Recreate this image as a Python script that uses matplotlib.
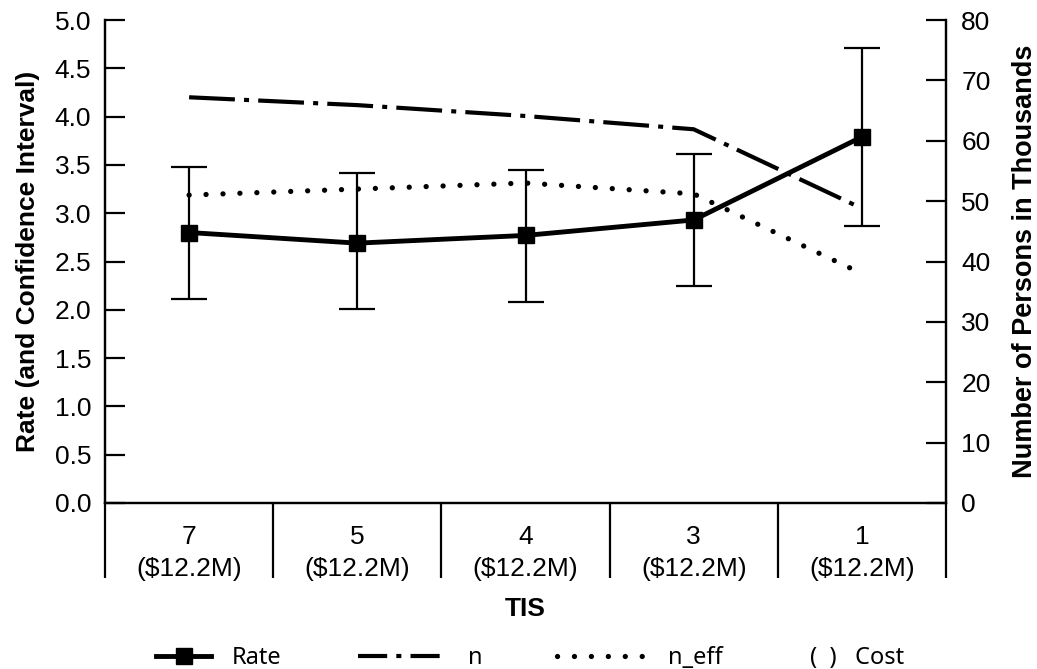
import numpy as np
import matplotlib
import matplotlib.pyplot as plt
from matplotlib.lines import Line2D
from matplotlib.ticker import FormatStrFormatter
matplotlib.use('Agg')

plt.rcParams['font.family'] = ['Liberation Sans', 'DejaVu Sans']

# ------------ Data ------------ #
tis = ['7', '5', '4', '3', '1']
cost = ['$12.2M', '$12.2M', '$12.2M', '$12.2M', '$12.2M']
rate = [2.80, 2.69, 2.77, 2.93, 3.79]
rate_lo = [2.11, 2.01, 2.08, 2.25, 2.87]
rate_hi = [3.48, 3.42, 3.45, 3.61, 4.71]
n_persons = [67.2, 65.9, 64.1, 61.9, 48.8]      # thousands
n_eff = [51.0, 52.0, 53.0, 51.2, 38.0]          # thousands

# ------------ Figure ------------ #
W, H = 1037, 669
fig = plt.figure(figsize=(W / 100, H / 100), dpi=100)
ax = fig.add_axes([105 / W, 1 - 503 / H, (946 - 105) / W, (503 - 20) / H])
ax2 = ax.twinx()
ax.set_zorder(ax2.get_zorder() + 1)
ax.patch.set_visible(False)

x = np.arange(len(tis))
rate = np.array(rate)
yerr = [rate - np.array(rate_lo), np.array(rate_hi) - rate]

dashdot = (0, (11, 2.2, 1.2, 2.2))
dotted = (0, (0.01, 3.2))

# counts on the right axis
ax2.plot(x, n_persons, color='black', lw=3.0, linestyle=dashdot)
ax2.plot(x, n_eff, color='black', lw=3.8, linestyle=dotted, dash_capstyle='round')

# rate with confidence interval on the left axis
ax.errorbar(x, rate, yerr=yerr, fmt='-s', color='black', lw=3.5, ms=12,
            elinewidth=1.6, capsize=13, capthick=1.6)

# axes styling
for a in (ax, ax2):
    a.spines['top'].set_visible(False)
    for s in a.spines.values():
        s.set_linewidth(1.6)

ax.set_xlim(-0.5, len(tis) - 0.5)
ax.set_ylim(0, 5)
ax.set_yticks(np.arange(0, 5.01, 0.5))
ax.yaxis.set_major_formatter(FormatStrFormatter('%.1f'))
ax.tick_params(axis='y', direction='in', length=14.4, width=1.6, pad=10, labelsize=19)

ax.set_xticks(x)
ax.set_xticklabels([f"{t}\n({c})" for t, c in zip(tis, cost)], linespacing=1.4)
ax.tick_params(axis='x', which='major', length=0, pad=16, labelsize=19)
ax.set_xticks(np.arange(-0.5, len(tis), 1), minor=True)
ax.tick_params(axis='x', which='minor', direction='out', length=54, width=1.6)

ax2.set_ylim(0, 80)
ax2.set_yticks(np.arange(0, 81, 10))
ax2.tick_params(axis='y', direction='in', length=14.4, width=1.6, pad=11, labelsize=19)

ax.set_ylabel('Rate (and Confidence Interval)', fontsize=19, fontweight='bold')
ax.yaxis.set_label_coords(-0.077, 0.5)
ax2.set_ylabel('Number of Persons in Thousands', fontsize=19.5, fontweight='bold')
ax2.yaxis.set_label_coords(1.078, 0.5)
ax.set_xlabel('TIS', fontsize=19, fontweight='bold')
ax.xaxis.set_label_coords(0.5, -0.195)

# ------------ Legend ------------ #
leg_prop = {'family': 'Noto Sans', 'size': 17}
leg_y = 1 - 658 / H
entries = [
    (Line2D([], [], color='black', lw=3.5, marker='s', ms=12), 'Rate', 156, 2.35, 0.85),
    (Line2D([], [], color='black', lw=3.0, linestyle=(0, (7, 2.2, 1.2, 2.2))), 'n', 358, 3.8, 0.85),
    (Line2D([], [], color='black', lw=3.8, linestyle=dotted, dash_capstyle='round'),
     'n_eff', 557, 3.85, 0.85),
    (Line2D([], [], lw=0), '(  )   Cost', 810, 0, 0),
]
for handle, label, left, hlen, hpad in entries:
    fig.legend(handles=[handle], labels=[label], loc='center left',
               bbox_to_anchor=(left / W, leg_y), frameon=False, borderpad=0,
               borderaxespad=0, handlelength=hlen, handletextpad=hpad, prop=leg_prop)

fig.savefig('out.png', dpi=100)
